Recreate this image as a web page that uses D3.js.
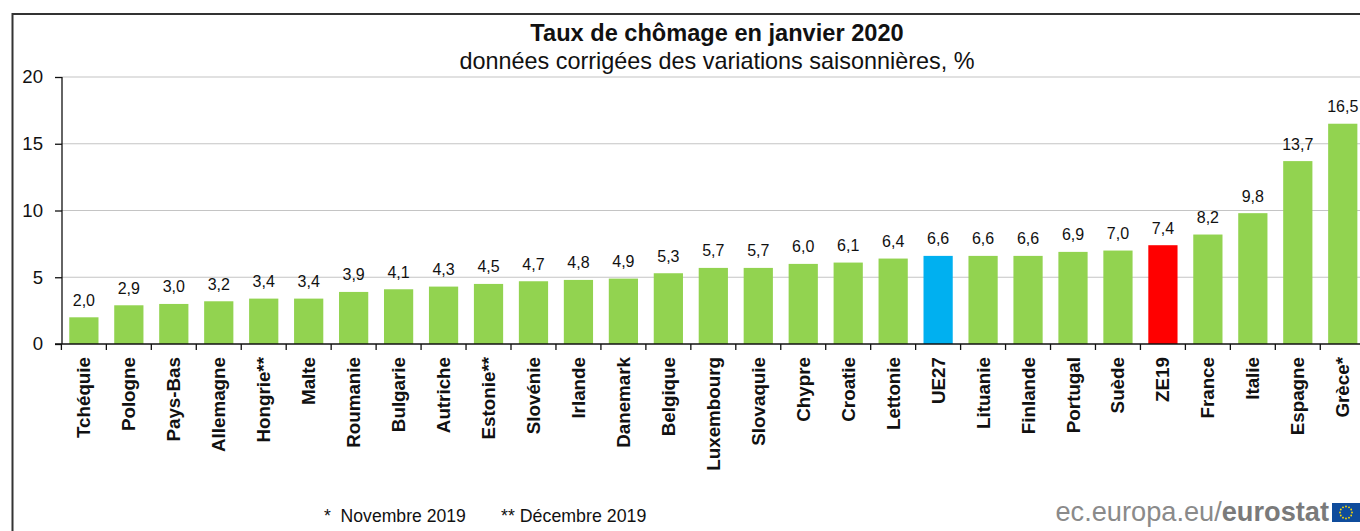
<!DOCTYPE html>
<html><head><meta charset="utf-8">
<script src="https://cdn.jsdelivr.net/npm/d3@7/dist/d3.min.js"></script>
<style>html,body{margin:0;padding:0;background:#fff;overflow:hidden}svg{display:block}text{font-family:"Liberation Sans",Arial,sans-serif}</style>
</head><body><script>
const categories=["Tchéquie","Pologne","Pays-Bas","Allemagne","Hongrie**","Malte","Roumanie","Bulgarie","Autriche","Estonie**","Slovénie","Irlande","Danemark","Belgique","Luxembourg","Slovaquie","Chypre","Croatie","Lettonie","UE27","Lituanie","Finlande","Portugal","Suède","ZE19","France","Italie","Espagne","Grèce*"];
const values=[2.0,2.9,3.0,3.2,3.4,3.4,3.9,4.1,4.3,4.5,4.7,4.8,4.9,5.3,5.7,5.7,6.0,6.1,6.4,6.6,6.6,6.6,6.9,7.0,7.4,8.2,9.8,13.7,16.5];
const yTicks=[0,5,10,15,20];
const highlight={"UE27":"#00b0f0","ZE19":"#ff0000"};
const barColor="#92d350";
const W=1360,H=531;
const svg=d3.select("body").append("svg").attr("width",W).attr("height",H);
svg.append("rect").attr("width",W).attr("height",H).attr("fill","#fff");
const x=d3.scaleBand().domain(categories).range([61.4,61.4+29*44.96]).paddingInner(.35).paddingOuter(.175);
const y=d3.scaleLinear().domain([0,20]).range([344,77]);
// frame
svg.append("path").attr("d",`M12.5,${H}V14H${W}`).attr("fill","none").attr("stroke","#333").attr("stroke-width",2);
// grid
svg.append("g").selectAll("line").data(yTicks.slice(1)).join("line")
 .attr("x1",62).attr("x2",W).attr("y1",d=>y(d)).attr("y2",d=>y(d)).attr("stroke","#c4c4c4").attr("stroke-width",1.2);
// bars
svg.append("g").selectAll("rect").data(categories).join("rect")
 .attr("x",d=>x(d)).attr("width",x.bandwidth())
 .attr("y",(d,i)=>y(values[i])).attr("height",(d,i)=>y(0)-y(values[i]))
 .attr("fill",d=>highlight[d]||barColor);
// value labels
svg.append("g").selectAll("text").data(categories).join("text")
 .attr("x",d=>x(d)+x.bandwidth()/2).attr("y",(d,i)=>y(values[i])-11.5)
 .attr("text-anchor","middle").attr("font-size",16).attr("fill","#111")
 .text((d,i)=>values[i].toFixed(1).replace(".",","));
// y axis
const yAxis=svg.append("g").attr("transform","translate(62,0)")
 .call(d3.axisLeft(y).tickValues(yTicks).tickSize(7).tickPadding(12));
yAxis.selectAll("path,line").attr("stroke","#111").attr("stroke-width",1.3);
yAxis.select(".domain").attr("d","M0,77V344");
yAxis.selectAll("text").attr("font-size",18.6).attr("fill","#111").style("font-family",'"Liberation Sans",Arial,sans-serif');
// x axis
const xAxisG=svg.append("g").attr("transform","translate(0,344)");
xAxisG.append("line").attr("x1",55).attr("x2",W).attr("stroke","#111").attr("stroke-width",1.3);
xAxisG.selectAll(".t").data(d3.range(0,29)).join("line").attr("class","t")
 .attr("x1",i=>x(categories[i])-x.step()*.175).attr("x2",i=>x(categories[i])-x.step()*.175)
 .attr("y1",0).attr("y2",6).attr("stroke","#111").attr("stroke-width",1.3);
xAxisG.selectAll("text").data(categories).join("text")
 .attr("transform",d=>`translate(${x(d)+x.bandwidth()/2+6.5},13) rotate(-90)`)
 .attr("text-anchor","end").attr("font-size",18.8).attr("font-weight","bold").attr("fill","#111")
 .text(d=>d);
// titles
svg.append("text").attr("x",717).attr("y",41).attr("text-anchor","middle").attr("font-size",23.6).attr("font-weight","bold").attr("fill","#111").text("Taux de chômage en janvier 2020");
svg.append("text").attr("x",717).attr("y",69).attr("text-anchor","middle").attr("font-size",23.4).attr("fill","#111").text("données corrigées des variations saisonnières, %");
// notes
svg.append("text").attr("x",324).attr("y",522).attr("font-size",17.6).attr("fill","#111").text("*\u00a0\u00a0Novembre 2019");
svg.append("text").attr("x",501).attr("y",522).attr("font-size",17.8).attr("fill","#111").text("** Décembre 2019");
// logo text
const logo=svg.append("text").attr("x",1329).attr("y",521).attr("text-anchor","end").attr("font-size",27.2).attr("fill","#8a8a8a");
logo.append("tspan").text("ec.europa.eu/");
logo.append("tspan").attr("font-weight","bold").attr("fill","#7a7a7a").text("eurostat");
// EU flag
const fx=1332,fy=503,fw=28,fh=19;
svg.append("rect").attr("x",fx).attr("y",fy).attr("width",fw).attr("height",fh).attr("fill","#0f4c9c");
svg.append("g").selectAll("circle").data(d3.range(12)).join("circle")
 .attr("cx",i=>fx+fw/2+6*Math.cos(i*Math.PI/6)).attr("cy",i=>fy+fh/2+6*Math.sin(i*Math.PI/6)).attr("r",.9).attr("fill","#ffdd00");
</script></body></html>
